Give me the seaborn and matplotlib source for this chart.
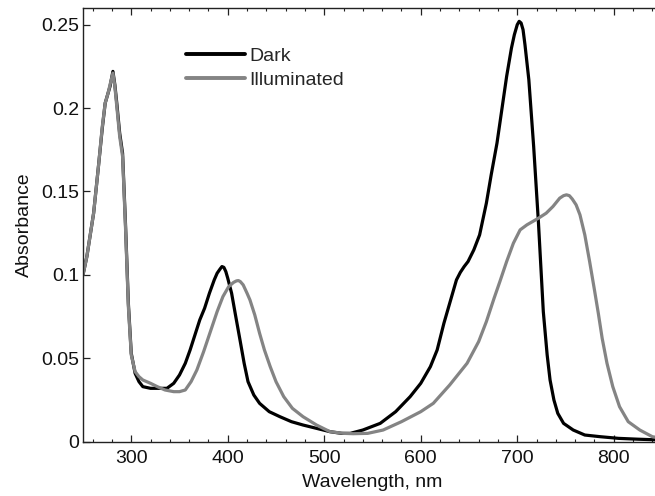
import matplotlib
matplotlib.use("Agg")
import matplotlib.pyplot as plt
import seaborn as sns
import pandas as pd
from matplotlib.ticker import MultipleLocator

wl_dark = [250, 254, 261, 266, 270, 273, 276, 278, 281, 283, 285, 288, 291, 294, 297, 300, 304, 308, 312,
           320, 330, 337, 344, 350, 356, 361, 366, 371, 376, 381, 386, 389, 392, 394, 396, 398, 400,
           404, 408, 413, 417, 421, 427, 433, 443, 454, 466, 478, 492, 506, 518, 527, 540,
           558, 574, 589, 600, 610, 617, 624, 631, 637, 641, 645, 649, 655, 661, 668, 673, 679,
           684, 689, 694, 697, 700, 702, 704, 706, 708, 712, 717, 722, 727, 731, 734, 738, 742, 748,
           758, 770, 786, 805, 825, 850]
abs_dark = [0.100, 0.111, 0.137, 0.165, 0.188, 0.203, 0.209, 0.213, 0.222, 0.214, 0.203, 0.185, 0.173, 0.131, 0.083,
            0.053, 0.041, 0.036, 0.033, 0.032, 0.032, 0.032, 0.035, 0.040, 0.047, 0.055, 0.064,
            0.073, 0.080, 0.089, 0.097, 0.101, 0.1035, 0.105, 0.1045, 0.102, 0.098, 0.089, 0.076, 0.060, 0.047,
            0.036, 0.028, 0.023, 0.018, 0.015, 0.012, 0.010, 0.008, 0.006, 0.005, 0.005, 0.007,
            0.011, 0.018, 0.027, 0.035, 0.045, 0.055, 0.071, 0.085, 0.097, 0.1015, 0.105, 0.108, 0.115,
            0.124, 0.143, 0.160, 0.179, 0.199, 0.219, 0.236, 0.244, 0.250, 0.252, 0.251, 0.247, 0.238, 0.217,
            0.177, 0.131, 0.078, 0.052, 0.037, 0.025, 0.017, 0.011, 0.007, 0.004, 0.003, 0.002,
            0.0015, 0.001]

wl_illum = [250, 254, 261, 266, 270, 273, 276, 278, 281, 283, 285, 288, 291, 294, 297, 300, 304, 308, 312,
            320, 327, 335, 344, 350, 356, 362, 368, 375, 382, 389, 395, 401, 406, 409, 411, 413, 416,
            420, 423, 428, 433, 438, 444, 450, 458, 467, 478, 492, 506, 520, 530, 545, 561,
            580, 600, 613, 630, 648, 660, 668, 676, 682, 689, 696, 703, 710, 716, 722, 730,
            737, 744, 748, 751, 754, 757, 761, 765, 770, 775, 780, 784, 788, 793, 799, 806, 815, 827,
            840, 850]
abs_illum = [0.100, 0.111, 0.137, 0.165, 0.189, 0.203, 0.209, 0.214, 0.221, 0.213, 0.201, 0.183, 0.171, 0.129, 0.081,
             0.052, 0.042, 0.039, 0.037, 0.035, 0.033, 0.031, 0.030, 0.030, 0.031, 0.036, 0.043,
             0.054, 0.066, 0.078, 0.087, 0.093, 0.0955, 0.0964, 0.0966, 0.096, 0.094, 0.089, 0.085, 0.076, 0.065,
             0.055, 0.045, 0.036, 0.027, 0.020, 0.015, 0.010, 0.006, 0.005, 0.0048, 0.005, 0.007,
             0.012, 0.018, 0.023, 0.034, 0.047, 0.060, 0.072, 0.086, 0.096, 0.108, 0.119, 0.127,
             0.130, 0.132, 0.134, 0.137, 0.141, 0.146, 0.1475, 0.148, 0.1475, 0.1455, 0.142, 0.136, 0.124, 0.108,
             0.091, 0.077, 0.062, 0.047, 0.033, 0.021, 0.012, 0.007, 0.003, 0.002]

series_names = ["Dark", "Illuminated"]
series_colors = ["#000000", "#848484"]

df = pd.concat([
    pd.DataFrame({"wl": wl_dark, "A": abs_dark, "s": series_names[0]}),
    pd.DataFrame({"wl": wl_illum, "A": abs_illum, "s": series_names[1]}),
])

sns.set_style("ticks")
plt.rcParams["font.family"] = ["Liberation Sans", "DejaVu Sans"]

fig = plt.figure(figsize=(6.55, 4.96), dpi=100)
ax = fig.add_axes([83 / 655, 1 - 441.7 / 496, (662 - 83) / 655, (441.7 - 8) / 496])

sns.lineplot(data=df, x="wl", y="A", hue="s", hue_order=series_names,
             palette=series_colors, linewidth=2.3, sort=False, estimator=None, ax=ax)

ax.set_xlim(250, 850)
ax.set_ylim(0, 0.26)
ax.xaxis.set_major_locator(MultipleLocator(100))
ax.xaxis.set_minor_locator(MultipleLocator(20))
ax.set_yticks([0, 0.05, 0.1, 0.15, 0.2, 0.25])
ax.set_yticklabels(["0", "0.05", "0.1", "0.15", "0.2", "0.25"])
ax.tick_params(axis="both", which="major", direction="in", length=5, width=0.9,
               labelsize=14, top=True, right=True, color="#222222", labelcolor="#111111")
ax.tick_params(axis="y", which="major", pad=2.5)
ax.tick_params(axis="x", which="major", pad=6)
ax.tick_params(axis="x", which="minor", direction="in", length=2.5, width=0.8,
               top=True, color="#222222")
for sp in ax.spines.values():
    sp.set_linewidth(1.0)
    sp.set_color("#222222")

ax.set_xlabel("Wavelength, nm", fontsize=14, labelpad=5, color="#111111")
ax.set_ylabel("Absorbance", fontsize=14, labelpad=6, color="#111111")

leg = ax.legend(loc="upper left", bbox_to_anchor=(0.148, 0.95), frameon=False,
                fontsize=14, handlelength=3.0, handletextpad=0.25, labelspacing=0.32)
for line in leg.get_lines():
    line.set_linewidth(2.8)

fig.savefig("out.png", dpi=100)
